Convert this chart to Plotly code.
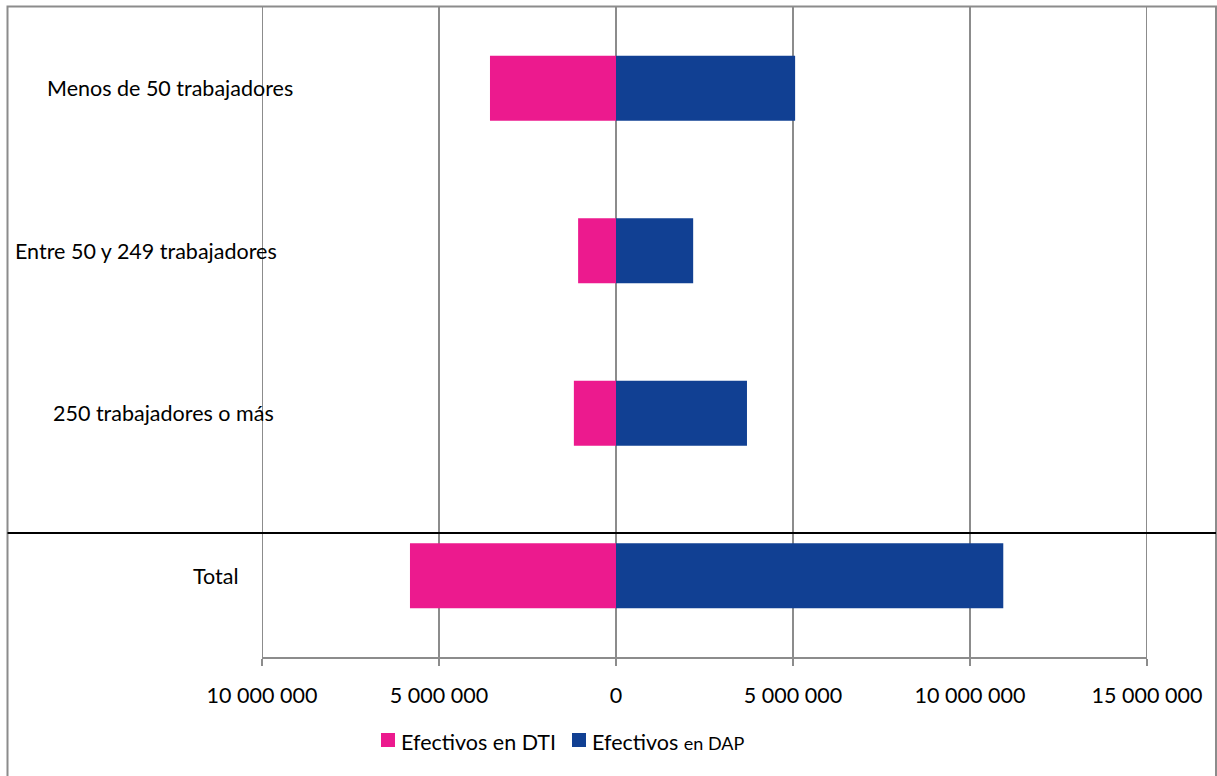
import plotly.graph_objects as go

# Workforce by company size: employees on ERTE-type schemes (DTI vs DAP)
categories = ["Menos de 50 trabajadores", "Entre 50 y 249 trabajadores",
              "250 trabajadores o más", "Total"]
dti = [3560000, 1070000, 1190000, 5820000]
dap = [5060000, 2180000, 3700000, 10940000]
tick_vals = [-10000000, -5000000, 0, 5000000, 10000000, 15000000]
tick_text = ["10 000 000", "5 000 000", "0", "5 000 000", "10 000 000", "15 000 000"]
series_names = ["Efectivos en DTI", "Efectivos <span style='font-size:18px'>en DAP</span>"]

PINK = "#EC1A8E"
BLUE = "#114093"
GRID = "#8C8C8C"
FONT = "Lato"
FS = 21.5

W, H = 1217, 776
L, R, T, B = 262, 1147, 7, 657  # plot area in pixels


def px_x(p):
    return (p - L) / (R - L)


def px_y(p):
    return (B - p) / (B - T)


ypos = list(range(len(categories)))

fig = go.Figure()
fig.add_trace(go.Bar(y=ypos, x=[-v for v in dti], orientation="h", marker_color=PINK,
                     marker_line_width=0, width=0.4, name="Efectivos en DTI"))
fig.add_trace(go.Bar(y=ypos, x=dap, orientation="h", marker_color=BLUE,
                     marker_line_width=0, width=0.4, name="Efectivos en DAP"))

# category labels sit to the left of the plot
label_centers = [170, 146, 163, 216]
annotations = []
for i, (cat, cx) in enumerate(zip(categories, label_centers)):
    annotations.append(dict(x=px_x(cx), y=i, xref="paper", yref="y", text=cat,
                            showarrow=False, xanchor="center", yanchor="middle",
                            font=dict(family=FONT, size=FS, color="#000")))

shapes = []
# gridlines at both ends of the value range
for v in (tick_vals[0], tick_vals[-1]):
    shapes.append(dict(type="line", xref="x", yref="paper", x0=v, x1=v, y0=0, y1=1,
                       line=dict(color=GRID, width=2), layer="below"))

# legend drawn by hand at the bottom
legend_items = [(381, PINK, series_names[0]), (572, BLUE, series_names[1])]
for sx, col, txt in legend_items:
    shapes.append(dict(type="rect", xref="paper", yref="paper",
                       x0=px_x(sx), x1=px_x(sx + 14), y0=px_y(733), y1=px_y(747),
                       fillcolor=col, line_width=0))
    annotations.append(dict(x=px_x(sx + 18), y=px_y(742), xref="paper", yref="paper",
                            text=txt, showarrow=False, xanchor="left", yanchor="middle",
                            font=dict(family=FONT, size=FS, color="#000")))

# outer frame and separator above the total
shapes.append(dict(type="rect", xref="paper", yref="paper",
                   x0=px_x(7.5), x1=px_x(1216), y0=px_y(6.5), y1=px_y(790),
                   line=dict(color=GRID, width=2), layer="below"))
shapes.append(dict(type="line", xref="paper", yref="paper",
                   x0=px_x(7.5), x1=px_x(1216), y0=px_y(533), y1=px_y(533),
                   line=dict(color="#000", width=2)))

fig.update_layout(
    width=W, height=H, autosize=False,
    margin=dict(l=L, r=W - R, t=T, b=H - B, pad=0),
    paper_bgcolor="white", plot_bgcolor="white",
    barmode="relative", showlegend=False,
    annotations=annotations, shapes=shapes,
    xaxis=dict(range=[-10000000, 15000000], tickvals=tick_vals, ticktext=tick_text,
               showgrid=True, gridcolor=GRID, gridwidth=2, zeroline=False,
               showline=True, linecolor=GRID, linewidth=2,
               ticks="outside", ticklen=7, tickwidth=2, tickcolor=GRID,
               ticklabelstandoff=11,
               tickfont=dict(family=FONT, size=FS, color="#000")),
    yaxis=dict(range=[3.5, -0.5], showticklabels=False, showgrid=False,
               zeroline=False, showline=False, ticks=""),
)

fig.write_html("out.html")
